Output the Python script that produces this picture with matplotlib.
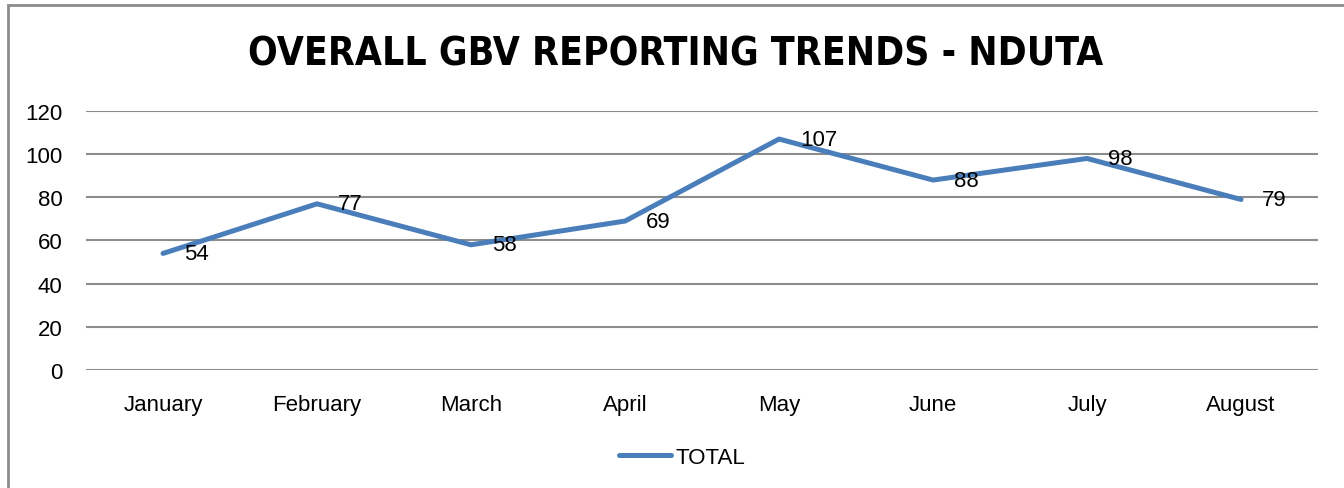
import matplotlib.pyplot as plt
from matplotlib.patches import Rectangle

months = ["January", "February", "March", "April", "May", "June", "July", "August"]
total = [54, 77, 58, 69, 107, 88, 98, 79]
yticks = [0, 20, 40, 60, 80, 100, 120]

FONT = ["Liberation Sans Narrow", "Liberation Sans", "DejaVu Sans"]
plt.rcParams['font.family'] = FONT

fig = plt.figure(figsize=(13.44, 4.89), dpi=100)
ax = fig.add_axes([0.064, 0.2413, 0.9167, 0.5297])

x = list(range(len(months)))
ax.plot(x, total, color="#4A7EBB", linewidth=3.6, solid_capstyle="round",
        solid_joinstyle="round", label="TOTAL", zorder=3)

# data labels right of the points
for xi, v in zip(x, total):
    ax.annotate(str(v), (xi, v), xytext=(15, 0), textcoords="offset points",
                ha="left", va="center", fontsize=16, color="black", zorder=4)

ax.set_xlim(-0.5, len(months) - 0.5)
ax.set_ylim(0, 120)
ax.set_yticks(yticks)
ax.set_xticks(x)
ax.set_xticklabels(months)
ax.tick_params(axis="both", length=0, labelsize=16, colors="black")
ax.tick_params(axis="y", pad=17)
ax.tick_params(axis="x", pad=17)
ax.grid(axis="y", color="#8C8C8C", linewidth=1.5)
ax.set_axisbelow(True)
for s in ax.spines.values():
    s.set_visible(False)

fig.text(0.503, 1 - 54 / 489, "OVERALL GBV REPORTING TRENDS - NDUTA",
         fontsize=28, fontweight="bold", ha="center", va="center",
         family=["DejaVu Sans Condensed", "DejaVu Sans"], fontstretch="condensed")

leg = ax.legend(loc="upper center", bbox_to_anchor=(0.484, -0.22), frameon=False,
                fontsize=16, handlelength=2.35, handletextpad=0.2)

# outer chart border
fig.patches.append(Rectangle((8 / 1344, -0.02), 1.02, 1 - 6 / 489 + 0.02,
                             transform=fig.transFigure, fill=False,
                             edgecolor="#8C8C8C", linewidth=2))

fig.savefig("out.png", dpi=100)
